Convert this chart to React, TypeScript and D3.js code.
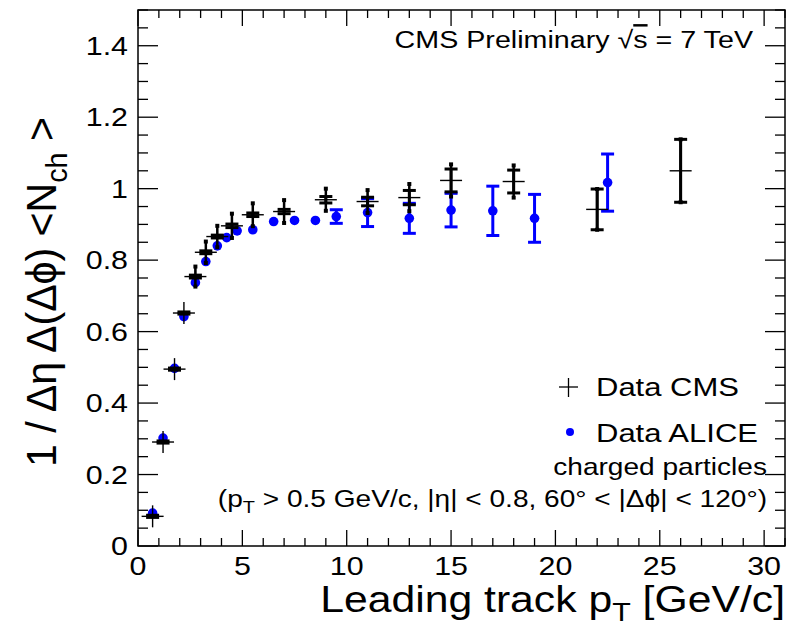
import React from 'react';
import * as d3 from 'd3';

// ---------- data ----------
const cmsPt = [0.7, 1.2, 1.75, 2.2, 2.75, 3.25, 3.8, 4.5, 5.5, 7.0, 9.0, 11.0, 13.0, 15.0, 18.0, 22.0, 26.0];
const cmsVal = [0.083, 0.291, 0.495, 0.652, 0.754, 0.822, 0.866, 0.896, 0.927, 0.936, 0.969, 0.964, 0.975, 1.023, 1.020, 0.942, 1.050];
const cmsStat = [0.003, 0.003, 0.003, 0.003, 0.004, 0.004, 0.004, 0.005, 0.005, 0.006, 0.009, 0.012, 0.020, 0.032, 0.032, 0.057, 0.088];
const cmsTot = [0.0, 0.0, 0.0, 0.0, 0.028, 0.030, 0.030, 0.034, 0.032, 0.032, 0.031, 0.032, 0.038, 0.045, 0.045, 0.057, 0.088];

const alicePt = [0.7, 1.2, 1.75, 2.2, 2.75, 3.25, 3.8, 4.25, 4.75, 5.5, 6.5, 7.5, 8.5, 9.5, 11.0, 13.0, 15.0, 17.0, 19.0, 22.5];
const aliceVal = [0.092, 0.302, 0.497, 0.642, 0.737, 0.796, 0.840, 0.863, 0.882, 0.885, 0.908, 0.911, 0.911, 0.922, 0.933, 0.917, 0.940, 0.938, 0.917, 1.017];
const aliceErr = [0, 0, 0, 0, 0, 0, 0, 0, 0, 0, 0, 0, 0, 0.019, 0.039, 0.042, 0.047, 0.069, 0.067, 0.080];

const xMajor = [0, 5, 10, 15, 20, 25, 30];
const yMajor = [0, 0.2, 0.4, 0.6, 0.8, 1.0, 1.2, 1.4];
const yLabels = ['0', '0.2', '0.4', '0.6', '0.8', '1', '1.2', '1.4'];

// ---------- layout ----------
const W = 788, H = 627;
const L = 138, R = 785, T = 10, B = 546;
const SX = 1.17;
const FONT = "'Liberation Sans', Arial, Helvetica, sans-serif";

const x = d3.scaleLinear().domain([0, 31]).range([L, R]);
const y = d3.scaleLinear().domain([0, 1.5]).range([B, T]);

function Txt(props: { x: number; y: number; size: number; anchor?: string; rotate?: boolean; fill?: string; len?: number; children: any }) {
  const { x: tx, y: ty, size, anchor = 'start', rotate = false, fill = '#000', len, children } = props;
  const extra: any = len ? { textLength: len, lengthAdjust: 'spacingAndGlyphs' } : {};
  return (
    <text
      transform={`translate(${tx},${ty}) scale(${SX},1)${rotate ? ' rotate(-90)' : ''}`}
      fontSize={size}
      fontFamily={FONT}
      textAnchor={anchor}
      fill={fill}
      {...extra}
    >
      {children}
    </text>
  );
}

export default function App() {
  const xMinor = d3.range(0, 31.001, 1);
  const yMinor = d3.range(0, 1.5001, 0.05);
  const capW = 13;
  const mk = 11;

  return (
    <svg width={W} height={H} style={{ display: 'block', position: 'absolute', left: 0, top: 0, background: '#fff' }}>
      <rect x={0} y={0} width={W} height={H} fill="#fff" />
      {/* ticks */}
      <g stroke="#000" strokeWidth={1.3}>
        {xMinor.map((v, i) => {
          const major = Math.abs(v % 5) < 1e-6;
          const px = x(v);
          return (
            <g key={'xt' + i}>
              <line x1={px} x2={px} y1={B} y2={B - (major ? 16 : 8)} />
              <line x1={px} x2={px} y1={T} y2={T + (major ? 16 : 8)} />
            </g>
          );
        })}
        {yMinor.map((v, i) => {
          const major = Math.abs((v / 0.2) - Math.round(v / 0.2)) < 1e-6;
          const py = y(v);
          return (
            <g key={'yt' + i}>
              <line x1={L} x2={L + (major ? 20 : 10)} y1={py} y2={py} />
              <line x1={R} x2={R - (major ? 20 : 10)} y1={py} y2={py} />
            </g>
          );
        })}
      </g>
      <rect x={L} y={T} width={R - L} height={B - T} fill="none" stroke="#000" strokeWidth={1.5} />

      {/* tick labels */}
      {xMajor.map((v) => (
        <Txt key={'xl' + v} x={x(v)} y={575} size={26} anchor="middle">{String(v)}</Txt>
      ))}
      {yMajor.map((v, i) => (
        <Txt key={'yl' + v} x={128} y={y(v) + 9} size={26} anchor="end">{yLabels[i]}</Txt>
      ))}

      {/* axis titles */}
      <Txt x={785} y={612} size={36.5} anchor="end">
        Leading track p<tspan fontSize={26} dy={9}>T</tspan><tspan dy={-9}> [GeV/c]</tspan>
      </Txt>
      <Txt x={56} y={117} size={37} anchor="end" rotate len={350}>
        1 / Δη Δ(Δϕ)  &lt;N<tspan fontSize={26} dy={9}>ch</tspan><tspan dy={-9}> &gt;</tspan>
      </Txt>

      {/* ALICE points */}
      <g>
        {alicePt.map((p, i) => {
          const px = x(p);
          const py = y(aliceVal[i]);
          const e = aliceErr[i];
          return (
            <g key={'a' + i}>
              {e > 0 && (
                <g stroke="#0000ff" strokeWidth={3}>
                  <line x1={px} x2={px} y1={y(aliceVal[i] - e)} y2={y(aliceVal[i] + e)} />
                  <line x1={px - capW / 2} x2={px + capW / 2} y1={y(aliceVal[i] - e)} y2={y(aliceVal[i] - e)} />
                  <line x1={px - capW / 2} x2={px + capW / 2} y1={y(aliceVal[i] + e)} y2={y(aliceVal[i] + e)} />
                </g>
              )}
              <circle cx={px} cy={py} r={4.8} fill="#0000ff" />
            </g>
          );
        })}
      </g>

      {/* CMS points */}
      <g>
        {cmsPt.map((p, i) => {
          const px = x(p);
          const v = cmsVal[i];
          const py = y(v);
          const s = cmsStat[i];
          const t = cmsTot[i];
          return (
            <g key={'c' + i}>
              {t > 0 && (
                <g>
                  <line x1={px} x2={px} y1={y(v - t)} y2={y(v + t)} stroke="#000" strokeWidth={2.5} />
                  <rect x={px - 2} y={y(v + t) - 2} width={4} height={4} fill="#000" />
                  <rect x={px - 2} y={y(v - t) - 2} width={4} height={4} fill="#000" />
                </g>
              )}
              <g stroke="#000" strokeWidth={3}>
                <line x1={px} x2={px} y1={y(v - s)} y2={y(v + s)} />
                <line x1={px - capW / 2} x2={px + capW / 2} y1={y(v - s)} y2={y(v - s)} />
                <line x1={px - capW / 2} x2={px + capW / 2} y1={y(v + s)} y2={y(v + s)} />
              </g>
              <g stroke="#000" strokeWidth={1.4}>
                <line x1={px - mk} x2={px + mk} y1={py} y2={py} />
                <line x1={px} x2={px} y1={py - mk} y2={py + mk} />
              </g>
            </g>
          );
        })}
      </g>

      {/* header */}
      <Txt x={753} y={48} size={24.5} anchor="end">
        CMS Preliminary √<tspan style={{ textDecoration: 'overline' }}>s</tspan> = 7 TeV
      </Txt>

      {/* legend */}
      <g stroke="#000" strokeWidth={1.3}>
        <line x1={559} x2={578} y1={387} y2={387} />
        <line x1={568.5} x2={568.5} y1={378} y2={397} />
      </g>
      <Txt x={596} y={396} size={26.5}>Data CMS</Txt>
      <circle cx={570} cy={432} r={4} fill="#0000ff" />
      <Txt x={596} y={442} size={26.5}>Data ALICE</Txt>
      <Txt x={767} y={475} size={24} anchor="end">charged particles</Txt>
      <Txt x={767} y={507} size={24} anchor="end">
        (p<tspan fontSize={17} dy={6}>T</tspan><tspan dy={-6}> &gt; 0.5 GeV/c, |η| &lt; 0.8, 60° &lt; |Δϕ| &lt; 120°)</tspan>
      </Txt>
    </svg>
  );
}
